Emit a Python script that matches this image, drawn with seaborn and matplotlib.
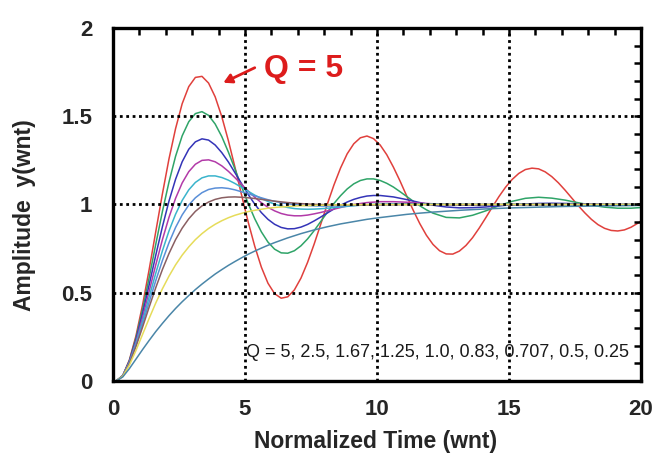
import numpy as np
import pandas as pd
import matplotlib
matplotlib.use("Agg")
import matplotlib.pyplot as plt
import seaborn as sns

# ---------------- data ----------------
q_labels = ["5", "2.5", "1.67", "1.25", "1.0", "0.83", "0.707", "0.5", "0.25"]
line_colors = ["#e0403c", "#2fa468", "#3434b8", "#b23aa8", "#3ab4cc",
               "#5a8fd8", "#8a5f62", "#e6dc5a", "#4a86a8"]
# time sampled every 0.25 up to this value, every 0.5 afterwards
fine_until = [20, 12, 10, 8, 8, 6, 6, 6, 6]
t_offset = 0.12  # curves start slightly right of x = 0

y_q5 = [0.000, 0.031, 0.119, 0.256, 0.431, 0.632, 0.846, 1.059,
        1.258, 1.430, 1.571, 1.668, 1.720, 1.726, 1.688, 1.610,
        1.498, 1.362, 1.211, 1.054, 0.901, 0.763, 0.645, 0.554,
        0.495, 0.469, 0.477, 0.516, 0.583, 0.672, 0.776, 0.889,
        1.003, 1.111, 1.207, 1.287, 1.344, 1.378, 1.388, 1.373,
        1.337, 1.282, 1.212, 1.134, 1.050, 0.968, 0.892, 0.826,
        0.774, 0.738, 0.720, 0.719, 0.736, 0.768, 0.812, 0.866,
        0.925, 0.986, 1.045, 1.098, 1.142, 1.176, 1.198, 1.206,
        1.202, 1.185, 1.158, 1.123, 1.082, 1.038, 0.994, 0.953,
        0.916, 0.886, 0.865, 0.853, 0.850, 0.856, 0.871, 0.893,
        0.909]
y_q2_5 = [0.000, 0.030, 0.115, 0.244, 0.405, 0.586, 0.775, 0.959,
          1.127, 1.273, 1.389, 1.469, 1.515, 1.526, 1.505, 1.456,
          1.385, 1.297, 1.201, 1.101, 1.006, 0.919, 0.845, 0.787,
          0.747, 0.726, 0.724, 0.738, 0.766, 0.805, 0.852, 0.904,
          0.956, 1.006, 1.050, 1.088, 1.117, 1.136, 1.145, 1.145,
          1.136, 1.120, 1.099, 1.073, 1.046, 1.019, 0.993, 0.970,
          0.951, 0.927, 0.924, 0.939, 0.964, 0.993, 1.018, 1.035,
          1.041, 1.036, 1.025, 1.010, 0.996, 0.985, 0.979, 0.979,
          0.983]
y_q1_67 = [0.000, 0.030, 0.111, 0.233, 0.382, 0.545, 0.713, 0.873,
           1.019, 1.143, 1.242, 1.313, 1.355, 1.372, 1.365, 1.337,
           1.294, 1.241, 1.180, 1.118, 1.057, 1.002, 0.954, 0.916,
           0.888, 0.870, 0.862, 0.863, 0.872, 0.887, 0.907, 0.929,
           0.952, 0.975, 0.996, 1.014, 1.029, 1.040, 1.048, 1.051,
           1.051, 1.043, 1.028, 1.011, 0.996, 0.986, 0.981, 0.982,
           0.986, 0.992, 0.999, 1.003, 1.006, 1.007, 1.006, 1.004,
           1.002, 1.000, 0.998, 0.997,
           0.997]
y_q1_25 = [0.000, 0.029, 0.108, 0.222, 0.360, 0.509, 0.658, 0.800,
           0.927, 1.035, 1.122, 1.186, 1.228, 1.250, 1.253, 1.242,
           1.219, 1.188, 1.152, 1.114, 1.076, 1.041, 1.010, 0.984,
           0.964, 0.949, 0.940, 0.936, 0.936, 0.940, 0.947, 0.955,
           0.964, 0.983, 1.000, 1.011, 1.016, 1.016, 1.013, 1.008,
           1.004, 1.000, 0.997, 0.996, 0.996, 0.997, 0.998, 0.999,
           1.000, 1.000, 1.001, 1.001, 1.001, 1.000, 1.000, 1.000,
           1.000]
y_q1_0 = [0.000, 0.029, 0.104, 0.213, 0.340, 0.476, 0.611, 0.737,
          0.850, 0.945, 1.023, 1.083, 1.125, 1.151, 1.162, 1.162,
          1.153, 1.138, 1.119, 1.097, 1.075, 1.053, 1.034, 1.017,
          1.002, 0.991, 0.983, 0.977, 0.974, 0.973, 0.974, 0.976,
          0.979, 0.986, 0.993, 0.999, 1.002, 1.004, 1.004, 1.004,
          1.003, 1.001, 1.000, 1.000, 0.999, 0.999, 1.000, 1.000,
          1.000, 1.000, 1.000, 1.000, 1.000, 1.000, 1.000, 1.000,
          1.000]
y_q0_83 = [0.000, 0.028, 0.101, 0.204, 0.322, 0.447, 0.569, 0.682,
           0.783, 0.870, 0.941, 0.997, 1.038, 1.067, 1.085, 1.093,
           1.095, 1.091, 1.083, 1.072, 1.061, 1.049, 1.038, 1.027,
           1.018, 1.004, 0.996, 0.992, 0.991, 0.992, 0.995, 0.997,
           0.999, 1.000, 1.001, 1.001, 1.001, 1.000, 1.000, 1.000,
           1.000, 1.000, 1.000, 1.000, 1.000, 1.000, 1.000, 1.000,
           1.000, 1.000, 1.000, 1.000,
           1.000]
y_q0_707 = [0.000, 0.028, 0.098, 0.195, 0.305, 0.419, 0.529, 0.631,
            0.722, 0.801, 0.866, 0.919, 0.961, 0.992, 1.014, 1.029,
            1.038, 1.042, 1.043, 1.041, 1.038, 1.034, 1.029, 1.024,
            1.019, 1.011, 1.005, 1.001, 0.999, 0.998, 0.998, 0.998,
            0.999, 0.999, 1.000, 1.000, 1.000, 1.000, 1.000, 1.000,
            1.000, 1.000, 1.000, 1.000, 1.000, 1.000, 1.000, 1.000,
            1.000, 1.000, 1.000, 1.000,
            1.000]
y_q0_5 = [0.000, 0.027, 0.090, 0.173, 0.264, 0.355, 0.442, 0.522,
          0.594, 0.658, 0.713, 0.760, 0.801, 0.835, 0.864, 0.888,
          0.908, 0.925, 0.939, 0.950, 0.960, 0.967, 0.973, 0.979,
          0.983, 0.989, 0.993, 0.995, 0.997, 0.998, 0.999, 0.999,
          1.000, 1.000, 1.000, 1.000, 1.000, 1.000, 1.000, 1.000,
          1.000, 1.000, 1.000, 1.000, 1.000, 1.000, 1.000, 1.000,
          1.000, 1.000, 1.000, 1.000,
          1.000]
y_q0_25 = [0.000, 0.023, 0.070, 0.124, 0.178, 0.230, 0.280, 0.326,
           0.370, 0.411, 0.449, 0.484, 0.518, 0.549, 0.578, 0.606,
           0.631, 0.655, 0.677, 0.698, 0.718, 0.736, 0.753, 0.769,
           0.784, 0.811, 0.835, 0.856, 0.874, 0.890, 0.903, 0.916,
           0.926, 0.935, 0.944, 0.951, 0.957, 0.962, 0.967, 0.971,
           0.975, 0.978, 0.981, 0.983, 0.985, 0.987, 0.989, 0.990,
           0.991, 0.992, 0.993, 0.994,
           0.995]

series = [y_q5, y_q2_5, y_q1_67, y_q1_25, y_q1_0, y_q0_83, y_q0_707, y_q0_5, y_q0_25]

x_ticks = [0, 5, 10, 15, 20]
y_ticks = [0, 0.5, 1, 1.5, 2]
x_tick_labels = ["0", "5", "10", "15", "20"]
y_tick_labels = ["0", "0.5", "1", "1.5", "2"]

# ---------------- build long table ----------------
frames = []
for q, ys, tf in zip(q_labels, series, fine_until):
    ts = list(np.arange(0, tf, 0.25)) + list(np.arange(tf, 20, 0.5)) + [19.9]
    assert len(ts) == len(ys), (q, len(ts), len(ys))
    frames.append(pd.DataFrame({"x": np.array(ts) + t_offset, "y": ys, "Q": q}))
df = pd.concat(frames, ignore_index=True)

# ---------------- plot ----------------
sns.set_style("white")
plt.rcParams["font.family"] = ["Liberation Sans", "DejaVu Sans"]

fig = plt.figure(figsize=(6.55, 4.65), dpi=100)
ax = fig.add_axes([113 / 655, 1 - 381 / 465, 528 / 655, 353 / 465])

sns.lineplot(data=df, x="x", y="y", hue="Q", hue_order=q_labels,
             palette=dict(zip(q_labels, line_colors)), estimator=None,
             sort=False, linewidth=1.1, legend=False, ax=ax)

ax.set_xlim(0, 20)
ax.set_ylim(0, 2)
ax.set_xticks(x_ticks, labels=x_tick_labels, fontweight="bold", fontsize=16)
ax.set_yticks(y_ticks, labels=y_tick_labels, fontweight="bold", fontsize=16)
ax.set_xticks(np.arange(0, 21, 1), minor=True)
ax.set_yticks(np.arange(0, 2.01, 0.1), minor=True)
ax.tick_params(which="both", direction="in", top=True, right=True,
               length=5, width=1.8, color="black")
ax.tick_params(axis="x", which="major", pad=13)
ax.tick_params(axis="y", which="major", pad=15)

ax.set_axisbelow(False)
ax.grid(which="major", color="black", linestyle=(0, (1, 1.3)), linewidth=2)
for sp in ax.spines.values():
    sp.set_linewidth(2.4)
    sp.set_color("black")
    sp.set_zorder(5)

ax.set_xlabel("Normalized Time (wnt)", fontsize=16.5, fontweight="bold")
ax.set_ylabel("Amplitude  y(wnt)", fontsize=16.5, fontweight="bold")
ax.xaxis.set_label_coords(0.497, -0.170)
ax.xaxis.label.set_va("center")
ax.yaxis.set_label_coords(-0.167, 0.47)
ax.yaxis.label.set_va("center")

red = "#dd1c1c"
ax.annotate("", xy=(4.18, 1.69), xytext=(5.37, 1.775),
            arrowprops=dict(arrowstyle="-|>,head_length=0.5,head_width=0.28",
                            lw=2, color=red, shrinkA=0, shrinkB=0))
ax.text(5.72, 1.765, "Q = 5", color=red, fontsize=23, fontweight="bold",
        ha="left", va="center")
ax.text(19.55, 0.16, "Q = 5, 2.5, 1.67, 1.25, 1.0, 0.83, 0.707, 0.5, 0.25",
        ha="right", va="center", fontsize=13, color="#1a1a1a")

fig.savefig("out.png", dpi=100)
